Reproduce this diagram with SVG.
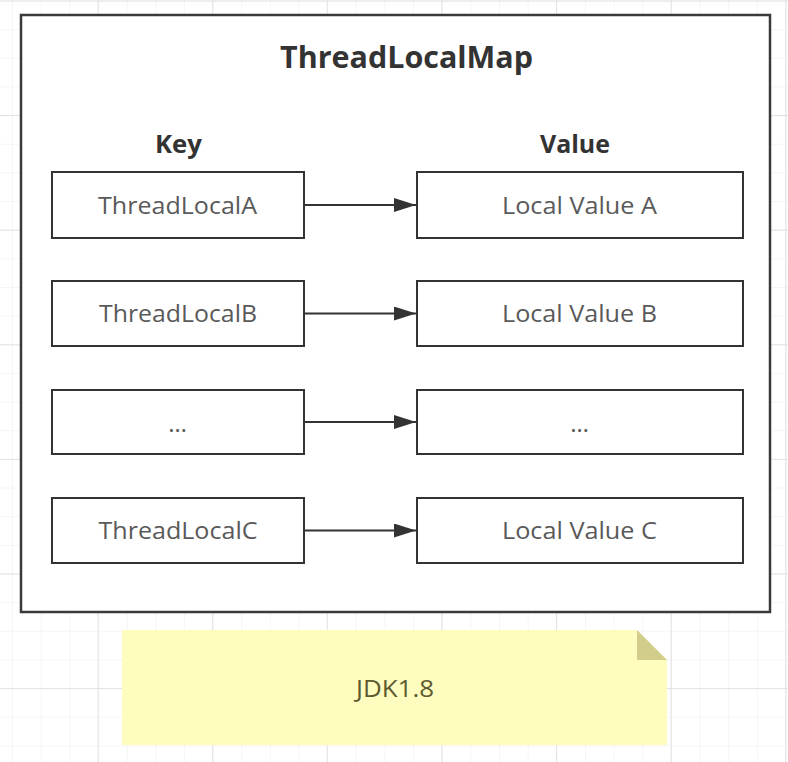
<svg xmlns="http://www.w3.org/2000/svg" width="788" height="762" viewBox="0 0 788 762">
  <defs>
    <pattern id="minor" x="12" y="0.5" width="28.65" height="28.65" patternUnits="userSpaceOnUse">
      <path d="M 0 0 L 0 28.65 M 0 0 L 28.65 0" fill="none" stroke="#ececec" stroke-width="1"/>
    </pattern>
    <pattern id="major" x="-17" y="0.5" width="114.6" height="114.6" patternUnits="userSpaceOnUse">
      <path d="M 0.5 0 L 0.5 114.6 M 0 0.5 L 114.6 0.5" fill="none" stroke="#e2e2e2" stroke-width="1"/>
    </pattern>
    <marker id="arrow" viewBox="0 0 22 14" refX="22" refY="7" markerWidth="22" markerHeight="14" markerUnits="userSpaceOnUse" orient="auto">
      <path d="M 0 0 L 22 7 L 0 14 Z" fill="#333333"/>
    </marker>
    <style>
      .box { fill: #ffffff; stroke: #333333; stroke-width: 2; }
      .label { font-family: "Open Sans", "Liberation Sans", sans-serif; font-size: 24px; fill: #5a5a5a; text-anchor: middle; }
      .head { font-family: "Open Sans", "Liberation Sans", sans-serif; font-weight: bold; fill: #333333; text-anchor: middle; }
      .conn { stroke: #333333; stroke-width: 2; fill: none; marker-end: url(#arrow); }
    </style>
  </defs>

  <rect width="788" height="762" fill="#ffffff"/>
  <rect width="788" height="762" fill="url(#minor)"/>
  <rect width="788" height="762" fill="url(#major)"/>

  <g id="container">
    <rect x="21" y="15" width="749" height="597" fill="#ffffff" stroke="#3a3a3a" stroke-width="2.5"/>
    <text class="head" x="406.5" y="68" font-size="30" textLength="253" lengthAdjust="spacingAndGlyphs">ThreadLocalMap</text>
    <text class="head" x="178.5" y="153" font-size="25.5" textLength="47" lengthAdjust="spacingAndGlyphs">Key</text>
    <text class="head" x="575" y="153" font-size="25.5" textLength="70" lengthAdjust="spacingAndGlyphs">Value</text>
  </g>

  <g id="keyA">
    <rect class="box" x="52" y="172" width="252" height="66"/>
    <text class="label" x="177.5" y="213.5" textLength="159" lengthAdjust="spacingAndGlyphs">ThreadLocalA</text>
  </g>
  <g id="keyB">
    <rect class="box" x="52" y="281" width="252" height="65"/>
    <text class="label" x="178" y="322" textLength="158" lengthAdjust="spacingAndGlyphs">ThreadLocalB</text>
  </g>
  <g id="keyDots">
    <rect class="box" x="52" y="390" width="252" height="64"/>
    <text class="label" x="177.5" y="432" font-size="20">…</text>
  </g>
  <g id="keyC">
    <rect class="box" x="52" y="498" width="252" height="65"/>
    <text class="label" x="178" y="539" textLength="159" lengthAdjust="spacingAndGlyphs">ThreadLocalC</text>
  </g>

  <g id="valueA">
    <rect class="box" x="417" y="172" width="326" height="66"/>
    <text class="label" x="579.5" y="213.5" textLength="155" lengthAdjust="spacingAndGlyphs">Local Value A</text>
  </g>
  <g id="valueB">
    <rect class="box" x="417" y="281" width="326" height="65"/>
    <text class="label" x="579.5" y="322" textLength="155" lengthAdjust="spacingAndGlyphs">Local Value B</text>
  </g>
  <g id="valueDots">
    <rect class="box" x="417" y="390" width="326" height="64"/>
    <text class="label" x="579.5" y="432" font-size="20">…</text>
  </g>
  <g id="valueC">
    <rect class="box" x="417" y="498" width="326" height="65"/>
    <text class="label" x="579.5" y="539" textLength="155" lengthAdjust="spacingAndGlyphs">Local Value C</text>
  </g>

  <g id="connectors">
    <line class="conn" x1="305" y1="205" x2="416" y2="205"/>
    <line class="conn" x1="305" y1="313.5" x2="416" y2="313.5"/>
    <line class="conn" x1="305" y1="422" x2="416" y2="422"/>
    <line class="conn" x1="305" y1="530.5" x2="416" y2="530.5"/>
  </g>

  <g id="note">
    <path d="M 122 630 L 637 630 L 667 660 L 667 745 L 122 745 Z" fill="#fffcc0"/>
    <path d="M 637 630 L 667 660 L 637 660 Z" fill="#d2cd8a"/>
    <text x="395" y="697" font-family="'Open Sans', 'Liberation Sans', sans-serif" font-size="24" fill="#5e5a30" text-anchor="middle" textLength="78" lengthAdjust="spacingAndGlyphs">JDK1.8</text>
  </g>
</svg>
